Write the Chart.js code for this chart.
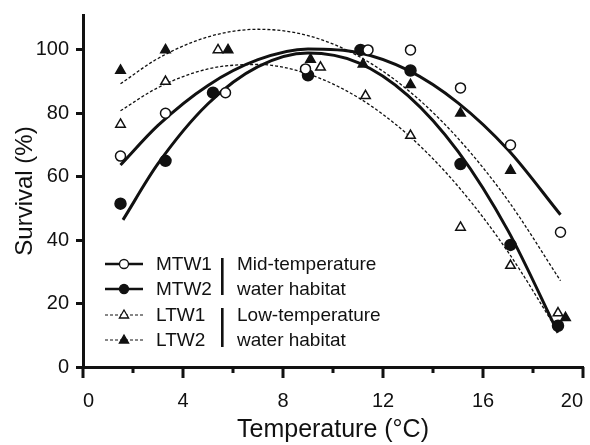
<!DOCTYPE html>
<html>
<head>
<meta charset="utf-8">
<script src="https://cdn.jsdelivr.net/npm/chart.js@4/dist/chart.umd.min.js"></script>
<style>
  html, body { margin: 0; padding: 0; background: #fff; }
  #wrap { width: 590px; height: 445px; }
</style>
</head>
<body>
<div id="wrap"><canvas id="survChart"></canvas></div>
<script>
const mtw1Temp = [1.5, 3.3, 5.7, 8.9, 11.4, 13.1, 15.1, 17.1, 19.1];
const mtw1Surv = [66.5, 80, 86.5, 94, 100, 100, 88, 70, 42.5];
const mtw2Temp = [1.5, 3.3, 5.2, 9.0, 11.1, 13.1, 15.1, 17.1, 19.0];
const mtw2Surv = [51.5, 65, 86.5, 92, 100, 93.5, 64, 38.5, 13];
const ltw1Temp = [1.5, 3.3, 5.4, 9.5, 11.3, 13.1, 15.1, 17.1, 19.0];
const ltw1Surv = [76.5, 90, 100, 94.5, 85.5, 73, 44, 32, 17];
const ltw2Temp = [1.5, 3.3, 5.8, 9.1, 11.2, 13.1, 15.1, 17.1, 19.3];
const ltw2Surv = [93.5, 100, 100, 97, 95.5, 89, 80, 62, 15.5];

// fitted curves, points
const fitMtw1Temp = [1.5, 3, 5, 7, 9, 11, 13, 15, 17, 19.1];
const fitMtw1Surv = [63.7, 76.2, 88.8, 96.9, 100.3, 99.2, 93.6, 83.3, 68.5, 48.0];
const fitMtw2Temp = [1.6, 3, 5, 7, 9, 11, 13, 15, 17, 19];
const fitMtw2Surv = [46.4, 64.1, 83.0, 94.7, 99.0, 96.0, 85.6, 68.0, 43.0, 10.8];
const fitLtw1Temp = [1.5, 3, 5, 7, 9, 11, 13, 15, 17, 19];
const fitLtw1Surv = [80.8, 88.1, 94.0, 95.4, 92.4, 85.0, 73.2, 57.0, 36.3, 11.2];
const fitLtw2Temp = [1.5, 3, 5, 7, 9, 11, 13, 15, 17, 19.1];
const fitLtw2Surv = [89.3, 97.3, 104.1, 106.5, 104.5, 98.1, 87.3, 72.1, 52.5, 27.2];

const seriesNames = ["MTW1", "MTW2", "LTW1", "LTW2"];
const groupNames = ["Mid-temperature", "water habitat", "Low-temperature", "water habitat"];
const xTickValues = [0, 4, 8, 12, 16, 20];
const yTickValues = [0, 20, 40, 60, 80, 100];

const FONT = "'Liberation Sans', Arial, Helvetica, sans-serif";

function pts(xs, ys) {
    return xs.map((x, i) => ({ x: x, y: ys[i] }));
}

function fitSet(label, xs, ys, dashed) {
    return {
        label: label,
        data: pts(xs, ys),
        showLine: true,
        borderColor: "#111",
        borderWidth: dashed ? 1.3 : 3,
        borderDash: dashed ? [3, 2] : [],
        pointRadius: 0,
        cubicInterpolationMode: "monotone",
        order: 2,
    };
}

function markSet(label, xs, ys, style, filled, r) {
    return {
        label: label,
        data: pts(xs, ys),
        showLine: false,
        pointStyle: style,
        pointRadius: r,
        pointBackgroundColor: filled ? "#111" : "#fff",
        pointBorderColor: "#111",
        pointBorderWidth: 1.5,
        order: 1,
    };
}

// x ticks: long at labelled values, short in between
const xTickMarks = {
    id: "xTickMarks",
    afterDraw(chart) {
        const ctx = chart.ctx;
        const xs = chart.scales.x;
        const base = chart.chartArea.bottom;
        ctx.save();
        ctx.strokeStyle = "#111";
        ctx.lineWidth = 3;
        for (let v = 0; v <= 20; v += 2) {
            const px = xs.getPixelForValue(v);
            const len = v % 4 === 0 ? 11 : 6;
            ctx.beginPath();
            ctx.moveTo(px, base);
            ctx.lineTo(px, base + len);
            ctx.stroke();
        }
        ctx.restore();
    },
};

function drawMarker(ctx, kind, filled, x, y) {
    ctx.fillStyle = filled ? "#111" : "#fff";
    ctx.strokeStyle = "#111";
    ctx.lineWidth = 1.3;
    ctx.beginPath();
    if (kind === "circle") {
        ctx.arc(x, y, 4.5, 0, Math.PI * 2);
    } else {
        ctx.moveTo(x, y - 5);
        ctx.lineTo(x + 4.6, y + 3);
        ctx.lineTo(x - 4.6, y + 3);
        ctx.closePath();
    }
    ctx.fill();
    ctx.stroke();
}

// legend with the two habitat brackets
const habitatLegend = {
    id: "habitatLegend",
    afterDraw(chart) {
        const ctx = chart.ctx;
        const rows = [264, 289, 315, 340];
        const kinds = ["circle", "circle", "triangle", "triangle"];
        ctx.save();
        rows.forEach((y, i) => {
            const dashed = i > 1;
            ctx.strokeStyle = "#111";
            ctx.lineWidth = dashed ? 1.2 : 2.5;
            ctx.setLineDash(dashed ? [3, 2] : []);
            ctx.beginPath();
            ctx.moveTo(105, y);
            ctx.lineTo(143, y);
            ctx.stroke();
            ctx.setLineDash([]);
            drawMarker(ctx, kinds[i], i % 2 === 1, 124, y);

            ctx.fillStyle = "#111";
            ctx.font = "19px " + FONT;
            ctx.textBaseline = "middle";
            ctx.textAlign = "left";
            ctx.fillText(seriesNames[i], 156, y + 1);
            ctx.fillText(groupNames[i], 237, y + 1);
        });
        ctx.fillStyle = "#111";
        ctx.fillRect(221, 258, 2.6, 37);
        ctx.fillRect(221, 308, 2.6, 39);
        ctx.restore();
    },
};

const survConfig = {
    type: "scatter",
    data: {
        datasets: [
            markSet(seriesNames[0], mtw1Temp, mtw1Surv, "circle", false, 5),
            markSet(seriesNames[1], mtw2Temp, mtw2Surv, "circle", true, 5.5),
            markSet(seriesNames[2], ltw1Temp, ltw1Surv, "triangle", false, 5.5),
            markSet(seriesNames[3], ltw2Temp, ltw2Surv, "triangle", true, 5.5),
            fitSet("MTW1 fit", fitMtw1Temp, fitMtw1Surv, false),
            fitSet("MTW2 fit", fitMtw2Temp, fitMtw2Surv, false),
            fitSet("LTW1 fit", fitLtw1Temp, fitLtw1Surv, true),
            fitSet("LTW2 fit", fitLtw2Temp, fitLtw2Surv, true),
        ],
    },
    options: {
        responsive: false,
        animation: false,
        layout: { padding: { top: 15, right: 5, left: 0, bottom: 0 } },
        plugins: {
            legend: { display: false },
            tooltip: { enabled: false },
        },
        scales: {
            x: {
                type: "linear",
                min: 0,
                max: 20,
                afterBuildTicks: (scale) => {
                    scale.ticks = xTickValues.map((v) => ({ value: v }));
                },
                afterFit: (scale) => {
                    scale.height = 78;
                    scale.paddingLeft = 0;
                    scale.paddingRight = 0;
                },
                ticks: {
                    color: "#111",
                    font: { family: FONT, size: 20 },
                    padding: 22,
                    align: "inner",
                    maxRotation: 0,
                },
                grid: { drawOnChartArea: false, drawTicks: false },
                border: { color: "#111", width: 3 },
                title: {
                    display: true,
                    text: "Temperature (°C)",
                    color: "#111",
                    font: { family: FONT, size: 25 },
                    padding: { top: 0, bottom: 0 },
                },
            },
            y: {
                min: 0,
                max: 111,
                afterBuildTicks: (scale) => {
                    scale.ticks = yTickValues.map((v) => ({ value: v }));
                },
                afterFit: (scale) => {
                    scale.width = 83;
                    scale.paddingTop = 0;
                    scale.paddingBottom = 0;
                },
                ticks: {
                    color: "#111",
                    font: { family: FONT, size: 20 },
                    padding: 7,
                },
                grid: {
                    drawOnChartArea: false,
                    tickLength: 7,
                    tickWidth: 3,
                    tickColor: "#111",
                },
                border: { color: "#111", width: 3 },
                title: {
                    display: true,
                    text: "Survival (%)",
                    color: "#111",
                    font: { family: FONT, size: 24 },
                    padding: { top: 11, bottom: 0 },
                },
            },
        },
    },
    plugins: [xTickMarks, habitatLegend],
};

const survCanvas = document.getElementById("survChart");
survCanvas.width = 590;
survCanvas.height = 445;
window.survChart = new Chart(survCanvas, survConfig);
</script>
</body>
</html>
